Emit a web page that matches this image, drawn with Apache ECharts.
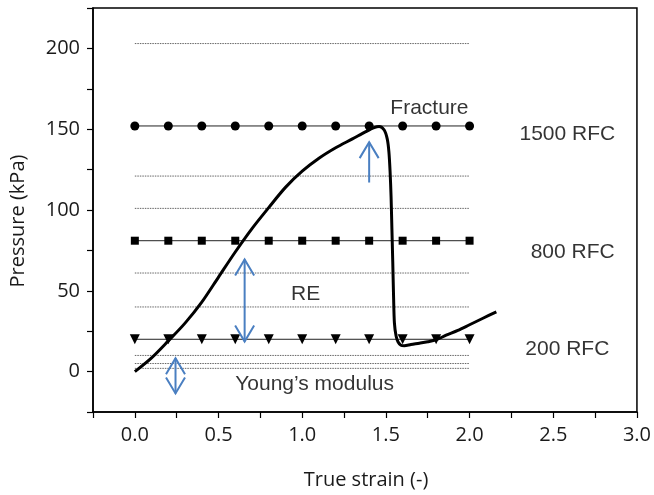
<!DOCTYPE html>
<html>
<head>
<meta charset="utf-8">
<script src="https://cdn.jsdelivr.net/npm/echarts@6/dist/echarts.min.js"></script>
<style>
  html, body { margin: 0; padding: 0; background: #fff; }
  #chart { width: 654px; height: 495px; }
</style>
</head>
<body>
<div id="chart"></div>
<script>
// Strain positions of the reference-level markers
const levelStrain = [0, 0.2, 0.4, 0.6, 0.8, 1.0, 1.2, 1.4, 1.6, 1.8, 2.0];

// Pressure of each RFC reference level (kPa)
const rfc1500 = [152, 152, 152, 152, 152, 152, 152, 152, 152, 152, 152];
const rfc800  = [81, 81, 81, 81, 81, 81, 81, 81, 81, 81, 81];
const rfc200  = [20, 20, 20, 20, 20, 20, 20, 20, 20, 20, 20];

// Other (unmarked) reference levels, drawn dotted
const dottedLevels = [203, 121, 101, 61, 40, 10, 5, 2];
const dottedSpan = [0, 2.0];

// Measured stress-strain curve
const curveStrain = [0, 0.1, 0.2, 0.3, 0.4, 0.5, 0.6, 0.7, 0.8, 0.9, 1.0,
  1.1, 1.2, 1.3, 1.38, 1.43, 1.46, 1.49, 1.508, 1.518, 1.525, 1.531,
  1.536, 1.541, 1.546, 1.551, 1.561, 1.573, 1.59, 1.61, 1.65, 1.70, 1.75, 1.80, 1.86,
  1.93, 2.00, 2.08, 2.16];
const curvePressure = [0, 8.5, 19, 30, 43, 58.5, 74, 88.5, 101.5, 114, 124,
  132, 138.5, 144, 148.5, 151, 151.7, 149.5, 144, 136, 124, 108,
  88, 68, 46, 30, 22, 18.3, 16.3, 16, 16.8, 17.6, 18.5, 19.7, 22.5,
  25.5, 29, 33, 37];

// Annotation arrows: [strain, lower pressure, upper pressure, double-headed]
const arrows = [
  [1.40, 117, 142, 0],
  [0.656, 18.6, 69.4, 1],
  [0.243, -13.5, 8.3, 1]
];

// Annotation texts: [strain, pressure, text]
const notes = [
  [1.76, 163, 'Fracture'],
  [2.584, 147, '1500 RFC'],
  [2.616, 74, '800 RFC'],
  [2.584, 14, '200 RFC'],
  [1.02, 48, 'RE'],
  [1.074, -7.5, 'Young\u2019s modulus']
];

// Axis tick labels
const xTickLabels = ['0.0', '0.5', '1.0', '1.5', '2.0', '2.5', '3.0'];
const yTickLabels = ['0', '50', '100', '150', '200'];

const pair = (xs, ys) => xs.map((x, i) => [x, ys[i]]);
const isMultiple = (v, step) => Math.abs(v / step - Math.round(v / step)) < 1e-6;

const tickFont = { fontFamily: 'Open Sans', fontSize: 20, color: '#1a1a1a' };
const noteFont = 'Liberation Sans';
const arrowColor = '#4a7fc1';

const series = [];

dottedLevels.forEach(level => {
  series.push({
    type: 'line',
    data: dottedSpan.map(x => [x, level]),
    symbol: 'none',
    silent: true,
    lineStyle: { color: '#666', width: 1, type: [1.5, 1] },
    z: 1
  });
});

const markerLevel = (values, symbol, size, rotate) => ({
  type: 'line',
  data: pair(levelStrain, values),
  symbol: symbol,
  symbolSize: size,
  symbolRotate: rotate || 0,
  showSymbol: true,
  silent: true,
  itemStyle: { color: '#000' },
  lineStyle: { color: '#222', width: 1 },
  z: 2
});
series.push(markerLevel(rfc1500, 'circle', 9));
series.push(markerLevel(rfc800, 'rect', 8));
series.push(markerLevel(rfc200, 'triangle', 10, 180));

series.push({
  type: 'line',
  data: pair(curveStrain, curvePressure),
  symbol: 'none',
  smooth: 0.3,
  silent: true,
  lineStyle: { color: '#000', width: 3 },
  z: 4
});

series.push({
  type: 'custom',
  data: arrows,
  silent: true,
  z: 5,
  renderItem: (params, api) => {
    const x = api.value(0);
    const lo = api.coord([x, api.value(1)]);
    const hi = api.coord([x, api.value(2)]);
    const both = api.value(3) === 1;
    const hw = 9.5, hl = 16;
    const style = { stroke: arrowColor, lineWidth: 2, fill: null };
    const children = [
      { type: 'line', shape: { x1: lo[0], y1: lo[1], x2: hi[0], y2: hi[1] }, style },
      { type: 'polyline', shape: { points: [[hi[0] - hw, hi[1] + hl], [hi[0], hi[1]], [hi[0] + hw, hi[1] + hl]] }, style }
    ];
    if (both) {
      children.push({ type: 'polyline', shape: { points: [[lo[0] - hw, lo[1] - hl], [lo[0], lo[1]], [lo[0] + hw, lo[1] - hl]] }, style });
    }
    return { type: 'group', children };
  }
});

series.push({
  type: 'scatter',
  data: notes.map(n => ({ value: [n[0], n[1]], name: n[2] })),
  symbolSize: 0,
  silent: true,
  z: 6,
  label: {
    show: true,
    position: 'inside',
    formatter: '{b}',
    fontFamily: noteFont,
    fontSize: 21,
    color: '#000',
    align: 'center',
    verticalAlign: 'middle'
  }
});

const chart = echarts.init(document.getElementById('chart'), null, { renderer: 'canvas' });
chart.setOption({
  animation: false,
  backgroundColor: '#fff',
  grid: {
    left: 93, right: 15, top: 8, bottom: 83,
    show: true, borderColor: '#000', borderWidth: 1.5, containLabel: false
  },
  xAxis: {
    type: 'value',
    min: -0.25, max: 3.0, interval: 0.25,
    axisLine: { show: true, onZero: false, lineStyle: { color: '#000', width: 1.5 } },
    axisTick: { show: true, length: 6, lineStyle: { color: '#000', width: 1.2 } },
    splitLine: { show: false },
    axisLabel: Object.assign({
      margin: 13,
      formatter: v => {
        if (!isMultiple(v, 0.5) || v < 0) return '';
        const t = v.toFixed(1);
        return xTickLabels.indexOf(t) >= 0 ? t : '';
      }
    }, tickFont)
  },
  yAxis: {
    type: 'value',
    min: -25, max: 225, interval: 25,
    axisLine: { show: true, onZero: false, lineStyle: { color: '#000', width: 1.5 } },
    axisTick: { show: true, length: 6, lineStyle: { color: '#000', width: 1.2 } },
    splitLine: { show: false },
    axisLabel: Object.assign({
      margin: 13,
      formatter: v => {
        if (!isMultiple(v, 50) || v < 0) return '';
        const t = String(Math.round(v));
        return yTickLabels.indexOf(t) >= 0 ? t : '';
      }
    }, tickFont)
  },
  graphic: [
    {
      type: 'text', x: 18, y: 221, rotation: Math.PI / 2,
      style: { text: 'Pressure (kPa)', fontFamily: 'Open Sans', fontSize: 20, fill: '#1a1a1a',
               align: 'center', verticalAlign: 'middle' }
    },
    {
      type: 'text', x: 366, y: 480,
      style: { text: 'True strain (-)', fontFamily: 'Open Sans', fontSize: 20, fill: '#1a1a1a',
               align: 'center', verticalAlign: 'middle' }
    }
  ],
  series
});
</script>
</body>
</html>
